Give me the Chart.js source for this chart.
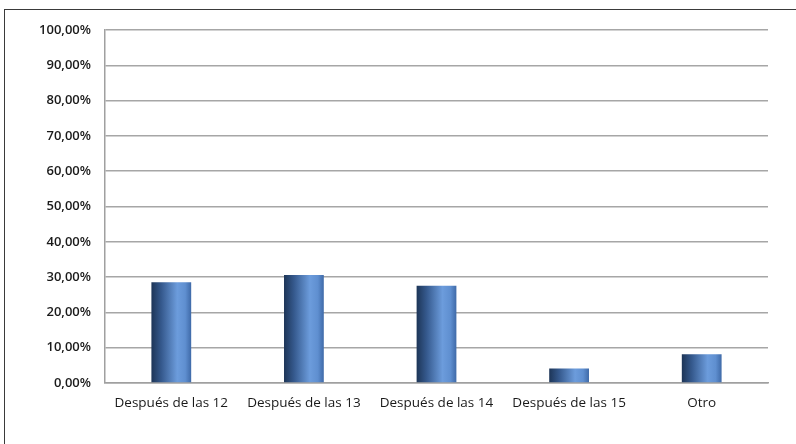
<!DOCTYPE html>
<html lang="es">
<head>
  <meta charset="UTF-8">
  <title>Después de las ...</title>
  <script src="https://cdn.jsdelivr.net/npm/chart.js"></script>
  <style>
    body {
      margin: 0;
      background: #fff;
      width: 796px;
      height: 444px;
      overflow: hidden;
      position: relative;
    }
    .frame {
      position: absolute;
      left: 4px;
      top: 9px;
      right: -2px;
      bottom: -2px;
      border-left: 1px solid #3a3a3a;
      border-top: 1px solid #3a3a3a;
    }
    .wrap {
      position: absolute;
      left: 0;
      top: 0;
      width: 796px;
      height: 444px;
    }
  </style>
</head>
<body>
  <div class="frame"></div>
  <div class="wrap"><canvas id="chart"></canvas></div>

  <script>
    // data
    const categories = ['Después de las 12', 'Después de las 13', 'Después de las 14', 'Después de las 15', 'Otro'];
    const values = [28.57, 30.61, 27.55, 4.08, 8.16];
    const yTicks = [0, 10, 20, 30, 40, 50, 60, 70, 80, 90, 100];

    const barPct = 0.3;

    // horizontal shading like the old office 3d-ish bars
    function barGradient(ctx) {
      const chart = ctx.chart;
      const area = chart.chartArea;
      const xs = chart.scales.x;
      if (!area || !xs || ctx.dataIndex === undefined) return '#4f81bd';
      const cx = xs.getPixelForValue(ctx.dataIndex);
      const w = (area.right - area.left) / categories.length * barPct;
      const g = chart.ctx.createLinearGradient(cx - w / 2, 0, cx + w / 2, 0);
      g.addColorStop(0, '#1d3557');
      g.addColorStop(0.25, '#35598d');
      g.addColorStop(0.65, '#6c9cdc');
      g.addColorStop(0.85, '#5f8fd0');
      g.addColorStop(1, '#3f6aa8');
      return g;
    }

    new Chart(document.getElementById('chart'), {
      type: 'bar',
      data: {
        labels: categories,
        datasets: [{
          data: values,
          backgroundColor: barGradient,
          borderWidth: 0,
          categoryPercentage: 1,
          barPercentage: barPct
        }]
      },
      options: {
        responsive: true,
        maintainAspectRatio: false,
        animation: false,
        layout: { padding: { top: 30, right: 28, left: 0, bottom: 0 } },
        plugins: {
          legend: { display: false },
          tooltip: { enabled: false }
        },
        scales: {
          x: {
            grid: { display: false, drawTicks: false },
            border: { color: '#a0a0a0', width: 1.5 },
            ticks: {
              color: '#1a1a1a',
              padding: 12,
              maxRotation: 0,
              autoSkip: false,
              font: { family: 'Open Sans', size: 13.5 }
            },
            afterFit: s => { s.height = 61; }
          },
          y: {
            min: 0,
            max: 100,
            afterBuildTicks: s => { s.ticks = yTicks.map(v => ({ value: v })); },
            grid: { color: '#a6a6a6', lineWidth: 1.5, drawTicks: false },
            border: { color: '#a0a0a0', width: 1.5 },
            ticks: {
              color: '#1a1a1a',
              padding: 14,
              font: { family: 'Open Sans', size: 13, weight: '600' },
              callback: v => v.toFixed(2).replace('.', ',') + '%'
            },
            afterFit: s => { s.width = 105; }
          }
        }
      }
    });
  </script>
</body>
</html>
